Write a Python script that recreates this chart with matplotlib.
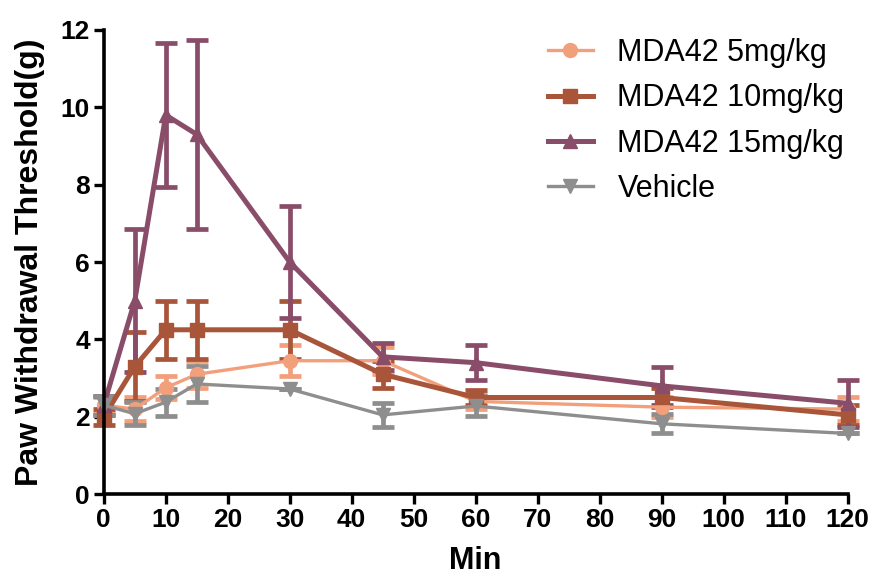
import matplotlib
matplotlib.use("Agg")
import matplotlib.pyplot as plt

plt.rcParams["font.family"] = ["Liberation Sans", "DejaVu Sans"]

# time points (min)
minutes = [0, 5, 10, 15, 30, 45, 60, 90, 120]

dose5_mean = [2.3, 2.2, 2.75, 3.1, 3.45, 3.45, 2.4, 2.25, 2.2]
dose5_err = [0.2, 0.3, 0.3, 0.35, 0.4, 0.35, 0.2, 0.25, 0.3]

dose10_mean = [2.0, 3.3, 4.25, 4.25, 4.25, 3.1, 2.5, 2.5, 2.05]
dose10_err = [0.2, 0.9, 0.75, 0.75, 0.75, 0.35, 0.2, 0.25, 0.25]

dose15_mean = [2.3, 5.0, 9.8, 9.3, 6.0, 3.55, 3.4, 2.8, 2.35]
dose15_err = [0.25, 1.85, 1.85, 2.45, 1.45, 0.35, 0.45, 0.5, 0.6]

vehicle_mean = [2.3, 2.08, 2.38, 2.85, 2.72, 2.05, 2.28, 1.82, 1.57]
vehicle_err = [0.25, 0.3, 0.35, 0.47, 0.0, 0.3, 0.25, 0.25, 0.0]

series = [
    ("MDA42 5mg/kg", dose5_mean, dose5_err, "#F2A07C", "o", 2.4),
    ("MDA42 10mg/kg", dose10_mean, dose10_err, "#A9553A", "s", 3.6),
    ("MDA42 15mg/kg", dose15_mean, dose15_err, "#8A4D69", "^", 3.6),
    ("Vehicle", vehicle_mean, vehicle_err, "#8E8E8E", "v", 2.4),
]

fig = plt.figure(figsize=(8.72, 5.76), dpi=100)
ax = fig.add_axes([0.119, 0.142, 0.853, 0.806])

handles = []
for label, mean, err, color, marker, lw in series:
    cont = ax.errorbar(minutes, mean, yerr=err, color=color, marker=marker,
                       markersize=10, linewidth=lw, elinewidth=3.4, capsize=8,
                       capthick=3.4, label=label, clip_on=False)
    handles.append(cont[0])

ax.set_xlim(0, 120)
ax.set_ylim(0, 12)
ax.set_xticks(range(0, 121, 10))
ax.set_yticks(range(0, 13, 2))

for side in ("top", "right"):
    ax.spines[side].set_visible(False)
for side in ("left", "bottom"):
    ax.spines[side].set_linewidth(2.6)

ax.tick_params(axis="both", direction="out", length=7, width=2.4,
               labelsize=19, pad=3)
for lbl in ax.get_xticklabels() + ax.get_yticklabels():
    lbl.set_fontweight("bold")

ax.set_xlabel("Min", fontsize=22, fontweight="bold", labelpad=10)
ax.set_ylabel("Paw Withdrawal Threshold(g)", fontsize=23, fontweight="bold",
              labelpad=11)

fig.legend(handles, [s[0] for s in series], loc="upper left",
           bbox_to_anchor=(548 / 872, 1 - 38 / 576), frameon=False,
           fontsize=22, handlelength=1.47, labelspacing=0.5,
           handletextpad=0.8, borderpad=0, borderaxespad=0)

fig.savefig("out.png", dpi=100)
